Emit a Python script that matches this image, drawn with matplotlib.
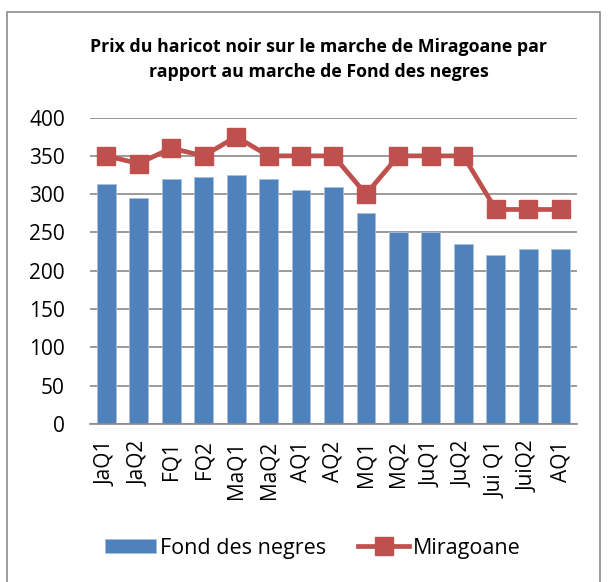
import matplotlib.pyplot as plt
from matplotlib.patches import Rectangle
import numpy as np

periodes = ['JaQ1', 'JaQ2', 'FQ1', 'FQ2', 'MaQ1', 'MaQ2', 'AQ1', 'AQ2',
            'MQ1', 'MQ2', 'JuQ1', 'JuQ2', 'Jui Q1', 'JuiQ2', 'AQ1']
fond_des_negres = [313, 295, 320, 323, 325, 320, 305, 310, 275, 250, 250, 235, 220, 228, 228]
miragoane = [350, 340, 360, 350, 375, 350, 350, 350, 300, 350, 350, 350, 280, 280, 280]

plt.rcParams['font.family'] = ['Open Sans', 'DejaVu Sans']

fig = plt.figure(figsize=(6.08, 5.82), dpi=100)
ax = fig.add_axes([0.148, 0.2715, 0.801, 0.5265])

# cadre du graphique
fig.patches.append(Rectangle((7 / 608, -0.05), 593 / 608, 1.05 - 12 / 582,
                             transform=fig.transFigure, fill=False,
                             edgecolor='#8c8c8c', linewidth=1.2))

x = np.arange(len(periodes))
barres = ax.bar(x, fond_des_negres, width=0.58, color='#4F81BD', edgecolor='#a7c0de',
                linewidth=0.6, label='Fond des negres', zorder=2)
ligne, = ax.plot(x, miragoane, color='#C0504D', linewidth=3.4, marker='s', markersize=13,
                 label='Miragoane', zorder=3)

ax.set_xlim(-0.5, len(periodes) - 0.5)
ax.set_ylim(0, 400)
ax.set_yticks(range(0, 401, 50))
ax.set_xticks(x)
ax.set_xticklabels(periodes, rotation=90)
ax.tick_params(axis='y', labelsize=15, length=0, pad=18)
ax.tick_params(axis='x', labelsize=15, length=0, pad=12)
ax.grid(axis='y', color='#8a8a8a', linewidth=1.2, zorder=0)
ax.set_axisbelow(True)
for s in ['left', 'right', 'top']:
    ax.spines[s].set_visible(False)
ax.spines['bottom'].set_color('#8a8a8a')
ax.spines['bottom'].set_linewidth(1.2)

fig.text(0.524, 0.898, 'Prix du haricot noir sur le marche de Miragoane par\nrapport au marche de Fond des negres',
         ha='center', va='center', fontsize=12.8, fontweight='bold', linespacing=1.45)

fig.legend([barres, ligne], ['Fond des negres', 'Miragoane'], loc='center',
           bbox_to_anchor=(0.515, 0.058), ncol=2, frameon=False,
           fontsize=15.5, handlelength=2.35, handleheight=0.65, columnspacing=1.5,
           handletextpad=0.2)

fig.savefig('out.png', dpi=100)
